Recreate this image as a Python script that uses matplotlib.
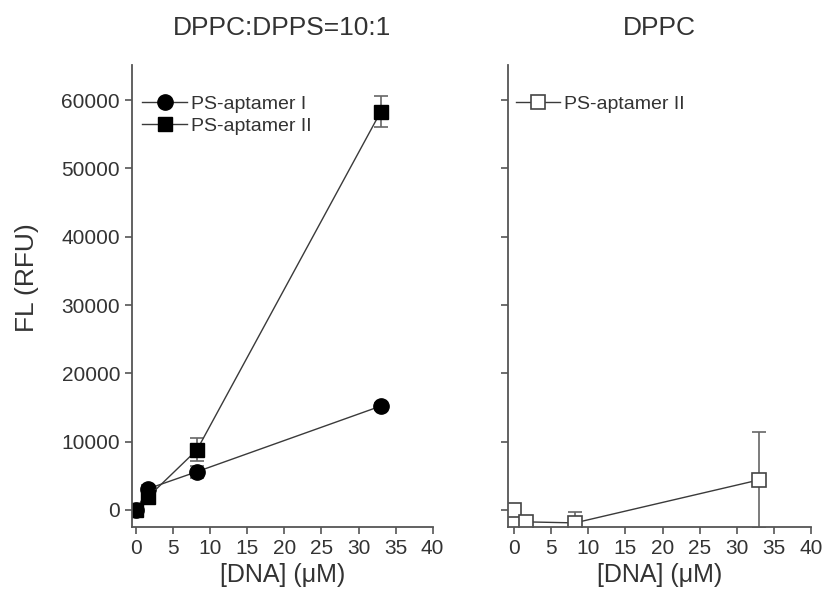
import matplotlib
matplotlib.use("Agg")
from matplotlib import pyplot as plt
from matplotlib.lines import Line2D

plt.rcParams['font.family'] = ['Liberation Sans', 'DejaVu Sans']

# concentracoes de DNA (uM)
dna = [0, 1.6, 8.2, 33]

# DPPC:DPPS=10:1
apt1 = [0, 3100, 5600, 15200]
apt1_err = [300, 600, 900, 500]
apt2 = [0, 1900, 8800, 58300]
apt2_err = [300, 500, 1700, 2300]

# DPPC
apt2_dppc = [0, -1750, -1900, 4400]
apt2_dppc_err = [0, 0, 1600, 7000]

titles = ['DPPC:DPPS=10:1', 'DPPC']
xticks = [0, 5, 10, 15, 20, 25, 30, 35, 40]
yticks = [0, 10000, 20000, 30000, 40000, 50000, 60000]

axis_col = '#555555'
line_col = '#3a3a3a'
text_col = '#333333'

fig = plt.figure(figsize=(8.24, 6.02), dpi=100)
ax1 = fig.add_axes([0.160, 0.1246, 0.365, 0.767])
ax2 = fig.add_axes([0.6165, 0.1246, 0.368, 0.767], sharey=ax1)

eb = dict(ecolor='#666666', elinewidth=1.2, capsize=5, capthick=1.2, lw=1, color=line_col)
s1 = dict(marker='o', mfc='black', mec='black', ms=11)
s2 = dict(marker='s', mfc='black', mec='black', ms=9.5)
s3 = dict(marker='s', mfc='white', mec='#444444', mew=1.2, ms=10)

ax1.errorbar(dna, apt1, yerr=apt1_err, **eb, **s1)
ax1.errorbar(dna, apt2, yerr=apt2_err, **eb, **s2)
ax2.errorbar(dna, apt2_dppc, yerr=apt2_dppc_err, **eb, **s3)

leg1 = [Line2D([], [], color=line_col, lw=1, **s1), Line2D([], [], color=line_col, lw=1, **s2)]
leg2 = [Line2D([], [], color=line_col, lw=1, **s3)]

for ax, t, h, lab, bx in zip([ax1, ax2], titles, [leg1, leg2],
                             [['PS-aptamer I', 'PS-aptamer II'], ['PS-aptamer II']],
                             [-0.01, -0.02]):
    ax.set_xlim(-0.6, 40)
    ax.set_xticks(xticks)
    ax.set_ylim(-2500, 65100)
    ax.set_yticks(yticks)
    ax.spines['top'].set_visible(False)
    ax.spines['right'].set_visible(False)
    for s in ['left', 'bottom']:
        ax.spines[s].set_color(axis_col)
        ax.spines[s].set_linewidth(1.3)
    ax.tick_params(direction='out', length=5, width=1.2, color=axis_col,
                   labelsize=15, labelcolor=text_col)
    ax.set_xlabel('[DNA] (\u03bcM)', fontsize=18, color=text_col, labelpad=4)
    ax.set_title(t, fontsize=19, color=text_col, pad=22)
    ax.legend(h, lab, loc='upper left', frameon=False, fontsize=14, handlelength=2.3,
              handletextpad=0.2, labelspacing=0.25, borderaxespad=0.3,
              bbox_to_anchor=(bx, 0.965), labelcolor=text_col)

ax2.set_xlim(-0.8, 40)
ax2.tick_params(labelleft=False)
ax1.set_ylabel('FL (RFU)', fontsize=19, color=text_col)
ax1.yaxis.set_label_coords(-0.31, 0.54)

fig.savefig('out.png', dpi=100)
